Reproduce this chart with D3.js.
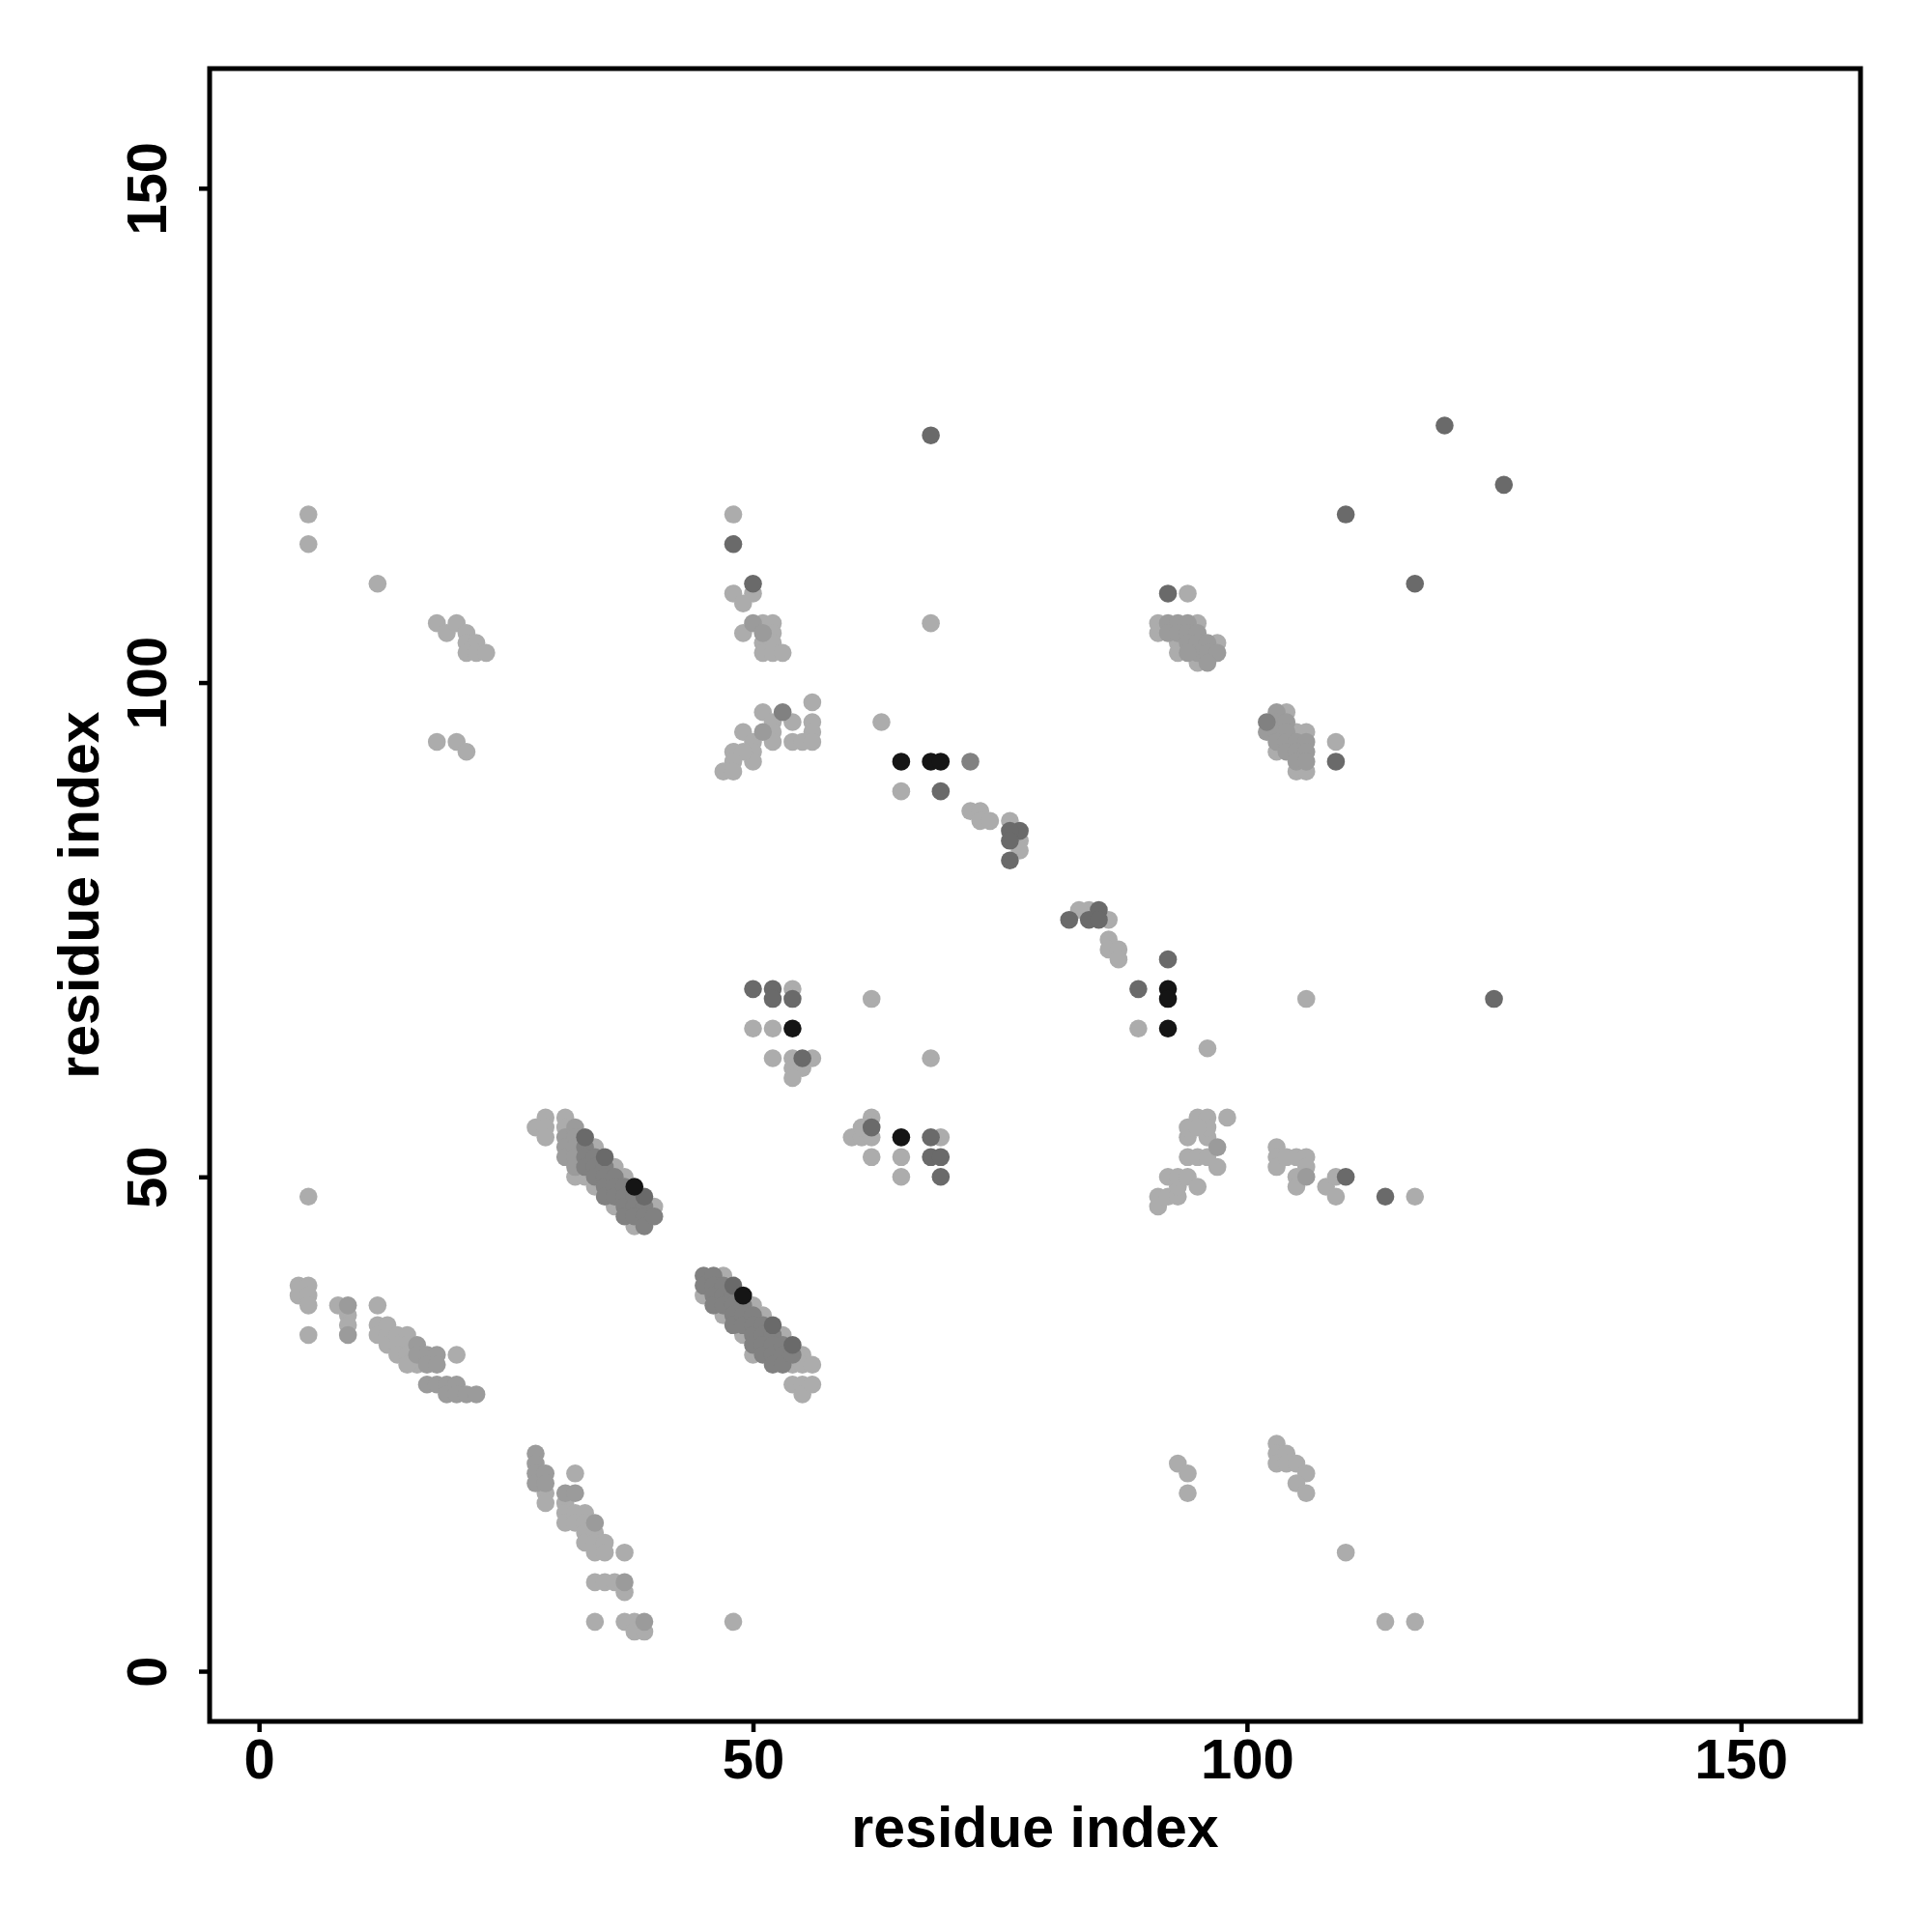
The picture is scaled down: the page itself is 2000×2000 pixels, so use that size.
<!DOCTYPE html>
<html>
<head>
<meta charset="utf-8">
<script src="https://cdn.jsdelivr.net/npm/d3@7"></script>
<style>
  html, body { margin: 0; padding: 0; background: #fff; }
  svg { display: block; }
</style>
</head>
<body>
<script>
// ---- data: residue contact pairs (residue i, residue j, shade level 1=light .. 5=black) ----
const resI = [
  4,5,4,5,5,5, 8,9,9,9,9, 12,12,12,13,13,13, 14,15,14,15,14,15,16,16,16,15, 17,18,17,18,20, 17,18,19,20, 19,20,21,22,
  28,28,28,28,29,29,29,29, 32,31,32,31,31,31,32,32, 33,33,34,33,34,33,34,35,34,35,37, 34,35,36,37,37, 34,37,38,39,38,39,
  28,29,29,29, 31,31,31,31,31, 32,32,32,32,32,32, 33,33,33,33,33, 34,34,34,34,34, 35,35,35,35,35, 36,36,36,36,36, 37,37,37,37,37, 38,38,38,38,38, 39,39,39,39, 40,40,
  45,45,45, 46,46,46,46, 47,47,47,47,47, 48,48,48,48,48, 49,49,49,49,49, 50,50,50,50,50,50, 51,51,51,51,51, 52,52,52,52,52, 53,53,53,53, 54,54,54,54, 55,55,55,55, 56,56,
  48,48,50,48,49,50, 49,50,51,52,51,52,51,52,51,52,53, 56,51,53,52,54,56,49,51,52,56,54,55,56,52,50,50,50,48,49,48,47,48,
  63,65,68,69,72,65,69, 72,73,73,74,76,77,76,76,77,77,76,
  82,83,84,85,84,85,86,86,86,87,87,92,89,92,92,89,92,96,
  68,120,126,110,117,125,106,68,
  92,94, 91,92,93,94,95,91,92,93,94,95, 93,94,95,96,97,93,95,96,97,94,95,96,
  102,103,104,102,103,103,104,104,105,106,103,104,105,106,103,104,105,106,105,106,105,106,109,109,
  50,52,52,54,54,50,52,54,52,54,55,56,54,55,54,
  62,68, 62,62,60,61,62,61,62,65,65,65,68,69,68,69,69,
  91,91,92,93,93,92,93,94,95,94,95,96,97,97,94,96,94,95,96,96,98,95,
  103,103,103,104,105,106,106,106,105,105,108,109,109,110,114,117,
  93,94,94,103,103,103,104,104,105,106,105,106,110,114,117,
  5,5,12,18,19,20,21,21,22,21,22,23,18,20,21,
  48,5
];
const resJ = [
  39,39,38,38,37,34, 37,37,36,35,34, 37,35,34,35,34,33, 34,34,33,33,32,32,33,32,31,31, 32,32,31,31,32, 29,29,29,29, 28,28,28,28,
  22,21,20,19,20,19,18,17, 20,18,18,17,16,15,16,15, 16,15,15,14,14,13,13,13,12,12,12, 9,9,9,9,8, 5,5,5,5,4,4,
  55,56,55,54, 56,55,54,53,52, 55,54,53,52,51,50, 54,53,52,51,50, 53,52,51,50,49, 52,51,50,49,48, 51,50,49,48,47, 50,49,48,47,46, 49,48,47,46,45, 48,47,46,45, 47,46,
  40,39,38, 40,39,38,37, 40,39,38,37,36, 39,38,37,36,35, 38,37,36,35,34, 37,36,35,34,33,32, 36,35,34,33,32, 35,34,33,32,31, 34,33,32,31, 33,32,31,29, 32,31,29,28, 31,29,
  117,114,110,109,108,109, 105,106,106,106,105,105,104,104,103,103,103, 98,97,97,96,96,96,95,95,95,95,94,94,94,94,94,93,92,93,93,92,91,91,
  96,92,92,92,92,89,89, 87,87,86,86,86,85,85,84,84,83,82,
  76,77,77,77,76,76,76,74,73,73,72,72,69,69,68,65,65,63,
  125,126,120,117,110,68,68,106,
  109,109, 106,106,106,106,106,105,105,105,105,105, 104,104,104,104,104,103,103,103,103,103,102,102,
  96,97,97,95,96,95,96,95,95,95,94,94,94,94,93,93,93,93,92,92,91,91,94,92,
  69,69,68,69,68,65,65,65,62,62,62,62,61,61,60,
  68,62, 56,55,54,54,54,55,52,54,52,50,54,54,52,52,50,
  47,48,48,48,49,50,50,50,49,52,52,52,51,53,54,54,55,56,56,55,56,55,
  53,52,51,52,52,52,51,50,50,49,49,48,50,50,48,48,
  21,20,18,23,22,21,22,21,21,20,19,18,12,5,5,
  117,114,110,106,105,106,105,104,104,103,103,103,94,94,93,
  5,48
];
const shade = [
  1,1,1,1,1,1, 1,2,1,1,2, 1,1,1,1,1,1, 1,1,1,1,1,1,2,2,1,1, 2,2,2,2,1, 2,2,2,2, 2,2,2,2,
  2,2,2,2,2,2,1,1, 1,2,2,1,1,1,1,1, 1,1,2,1,1,1,1,1,1,1,1, 1,1,1,2,1, 1,1,1,2,1,1,
  1,1,1,1, 1,1,2,2,2, 2,2,2,2,2,1, 4,3,3,3,1, 1,3,3,3,1, 4,3,3,3,3, 1,3,3,3,1, 1,3,3,3,3, 5,3,3,3,1, 4,3,3,3, 1,3,
  3,3,1, 3,3,3,3, 1,3,3,3,1, 4,3,3,3,3, 5,3,3,3,1, 1,3,3,3,3,1, 1,3,3,3,3, 4,3,3,3,3, 1,3,3,3, 4,3,1,1, 1,1,1,1, 1,1,
  1,4,4,1,1,1, 1,2,1,1,2,1,1,1,1,1,1, 1,1,3,1,1,1,1,2,1,1,1,1,1,1,1,1,1,1,1,1,1,1,
  1,5,5,5,3,1,4, 1,1,1,1,1,4,4,4,1,1,4,
  4,1,1,4,4,4,1,1,1,1,1,4,4,5,5,1,5,1,
  4,4,4,4,4,4,1,1,
  4,1, 1,2,2,2,1,1,2,2,2,2, 1,2,2,2,1,1,2,2,2,2,1,2,
  3,2,1,2,2,2,2,2,1,1,2,2,2,2,1,2,2,2,2,2,1,1,1,4,
  4,4,4,1,4,1,1,5,1,1,4,1,1,1,1,
  1,1, 1,4,1,1,1,1,1,5,1,1,4,1,4,4,4,
  1,1,1,1,1,1,1,1,1,1,1,1,1,2,1,1,1,1,1,1,1,1,
  1,1,1,1,1,1,1,2,1,1,1,1,1,4,4,1,
  1,1,1,1,1,1,1,1,1,1,1,1,1,1,1,
  1,1,1,1,1,1,1,1,1,1,1,1,1,1,1,
  1,1
];
const shadeColors = ["#acacac", "#9b9b9b", "#818181", "#6a6a6a", "#151515"];
const xTicks = [0, 50, 100, 150];
const yTicks = [0, 50, 100, 150];
const xTitle = "residue index";
const yTitle = "residue index";

// ---- layout ----
const W = 2000, H = 2000;
const plot = { left: 217, right: 1926, top: 71, bottom: 1782 };
const font = "'Liberation Sans', Arial, Helvetica, sans-serif";

const svg = d3.select("body").append("svg").attr("width", W).attr("height", H);

const x = d3.scaleLinear().domain([-5, 162.1]).range([plot.left, plot.right]);
const y = d3.scaleLinear().domain([-5.08, 162.1]).range([plot.bottom, plot.top]);
const color = d3.scaleOrdinal().domain([1, 2, 3, 4, 5]).range(shadeColors);

const pts = resI.map((d, k) => ({ i: d, j: resJ[k], s: shade[k] }))
  .sort((a, b) => a.s - b.s);

svg.append("g").selectAll("circle").data(pts).join("circle")
  .attr("cx", d => x(d.i))
  .attr("cy", d => y(d.j))
  .attr("r", 9.3)
  .attr("fill", d => color(d.s));

// box
svg.append("rect")
  .attr("x", plot.left).attr("y", plot.top)
  .attr("width", plot.right - plot.left).attr("height", plot.bottom - plot.top)
  .attr("fill", "none").attr("stroke", "#000").attr("stroke-width", 5);

// x axis
const gx = svg.append("g").attr("transform", `translate(0,${plot.bottom})`)
  .call(d3.axisBottom(x).tickValues(xTicks).tickSize(11).tickSizeOuter(0));
gx.select(".domain").remove();
gx.selectAll(".tick line").attr("stroke", "#000").attr("stroke-width", 4.5);
gx.selectAll(".tick text")
  .attr("y", 59).attr("dy", null)
  .attr("fill", "#000")
  .style("font-family", font).style("font-weight", "bold").style("font-size", "58px");

// y axis
const gy = svg.append("g").attr("transform", `translate(${plot.left},0)`)
  .call(d3.axisLeft(y).tickValues(yTicks).tickSize(11).tickSizeOuter(0));
gy.select(".domain").remove();
gy.selectAll(".tick line").attr("stroke", "#000").attr("stroke-width", 4.5);
gy.selectAll(".tick text")
  .attr("x", null).attr("dy", null)
  .attr("transform", "translate(-45,0) rotate(-90)")
  .attr("text-anchor", "middle")
  .attr("fill", "#000")
  .style("font-family", font).style("font-weight", "bold").style("font-size", "58px");

// titles
svg.append("text")
  .attr("x", (plot.left + plot.right) / 2).attr("y", 1912)
  .attr("text-anchor", "middle")
  .style("font-family", font).style("font-weight", "bold").style("font-size", "59px")
  .text(xTitle);

svg.append("text")
  .attr("transform", `translate(102,${(plot.top + plot.bottom) / 2}) rotate(-90)`)
  .attr("text-anchor", "middle")
  .style("font-family", font).style("font-weight", "bold").style("font-size", "59px")
  .text(yTitle);
</script>
</body>
</html>
